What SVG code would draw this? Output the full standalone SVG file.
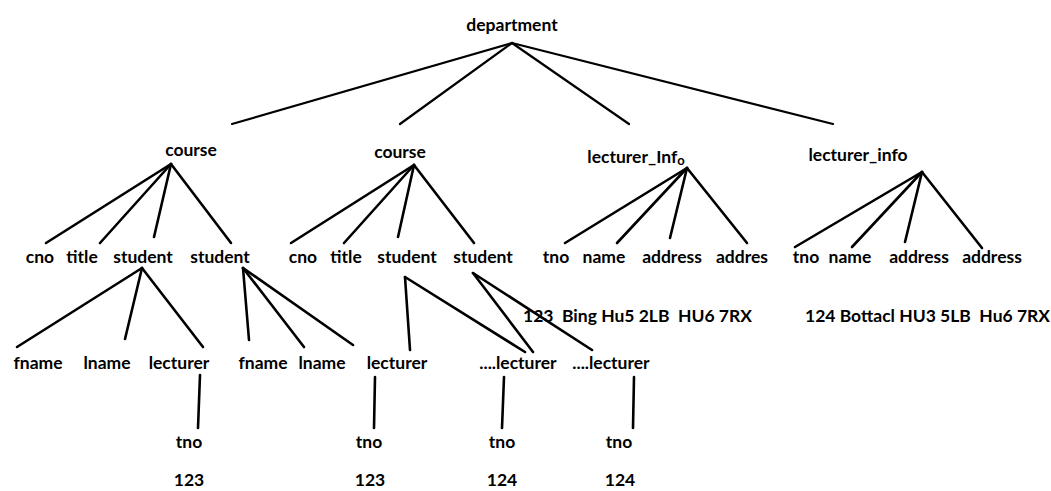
<svg xmlns="http://www.w3.org/2000/svg" width="1051" height="491" viewBox="0 0 1051 491">
  <style>
    .lbl { font-family: Lato, "Open Sans", "Liberation Sans", sans-serif; font-weight: bold; font-size: 17.5px; fill: #000; text-anchor: middle; }
    .row { text-anchor: start; white-space: pre; }
    .sub { font-size: 13px; }
    .edge { stroke: #000; stroke-width: 2.6; stroke-linecap: round; fill: none; }
    .thin { stroke-width: 2.2; }
  </style>
  <rect width="1051" height="491" fill="#fff"/>

  <!-- tree edges -->
  <g id="connectors" class="edge">
    <!-- department -->
    <g class="thin">
      <line x1="512" y1="43" x2="232" y2="124"/>
      <line x1="512" y1="43" x2="400" y2="124"/>
      <line x1="512" y1="43" x2="629" y2="124"/>
      <line x1="512" y1="43" x2="833" y2="124"/>
    </g>
    <!-- first course -->
    <line x1="171" y1="164" x2="46" y2="243"/>
    <line x1="171" y1="164" x2="100" y2="243"/>
    <line x1="171" y1="164" x2="154" y2="237"/>
    <line x1="171" y1="164" x2="231" y2="243"/>
    <!-- second course -->
    <line x1="414" y1="165" x2="291" y2="243"/>
    <line x1="414" y1="165" x2="344" y2="243"/>
    <line x1="414" y1="165" x2="398" y2="237"/>
    <line x1="414" y1="165" x2="474" y2="243"/>
    <!-- lecturer_Info -->
    <line x1="687" y1="168" x2="565" y2="243"/>
    <line x1="687" y1="168" x2="617" y2="243"/>
    <line x1="687" y1="168" x2="670" y2="238"/>
    <line x1="687" y1="168" x2="747" y2="243"/>
    <!-- lecturer_info -->
    <line x1="922" y1="172" x2="795" y2="247"/>
    <line x1="922" y1="172" x2="852" y2="247"/>
    <line x1="922" y1="172" x2="905" y2="242"/>
    <line x1="922" y1="172" x2="982" y2="248"/>
    <!-- students -->
    <line x1="142" y1="268" x2="17" y2="347"/>
    <line x1="142" y1="268" x2="125" y2="339"/>
    <line x1="142" y1="268" x2="203" y2="347"/>
    <line x1="243" y1="268" x2="249" y2="340"/>
    <line x1="243" y1="268" x2="304" y2="347"/>
    <line x1="243" y1="268" x2="353" y2="345"/>
    <line x1="405" y1="277" x2="410" y2="350"/>
    <line x1="405" y1="277" x2="525" y2="352"/>
    <line x1="473" y1="273" x2="533" y2="352"/>
    <line x1="473" y1="273" x2="592" y2="350"/>
    <!-- lecturer to tno -->
    <line x1="200" y1="375" x2="198" y2="428"/>
    <line x1="375" y1="377" x2="374" y2="428"/>
    <line x1="504" y1="377" x2="502" y2="428"/>
    <line x1="634" y1="377" x2="633" y2="428"/>
  </g>

  <g id="department"><text class="lbl" x="512" y="31">department</text></g>

  <g id="course-1"><text class="lbl" x="191" y="156">course</text></g>
  <g id="course-2"><text class="lbl" x="400" y="158">course</text></g>
  <g id="lecturer-info-1"><text class="lbl" x="636" y="163">lecturer_Inf<tspan class="sub" dy="2">o</tspan></text></g>
  <g id="lecturer-info-2"><text class="lbl" x="858" y="161">lecturer_info</text></g>

  <!-- children of first course -->
  <g id="c1-cno"><text class="lbl" x="40" y="263">cno</text></g>
  <g id="c1-title"><text class="lbl" x="82" y="263">title</text></g>
  <g id="c1-student-1"><text class="lbl" x="143" y="263">student</text></g>
  <g id="c1-student-2"><text class="lbl" x="220" y="263">student</text></g>

  <!-- children of second course -->
  <g id="c2-cno"><text class="lbl" x="303" y="263">cno</text></g>
  <g id="c2-title"><text class="lbl" x="346" y="263">title</text></g>
  <g id="c2-student-1"><text class="lbl" x="407" y="263">student</text></g>
  <g id="c2-student-2"><text class="lbl" x="483" y="263">student</text></g>

  <!-- lecturer_Info fields -->
  <g id="l1-tno"><text class="lbl" x="556" y="263">tno</text></g>
  <g id="l1-name"><text class="lbl" x="604" y="263">name</text></g>
  <g id="l1-address"><text class="lbl" x="672" y="263">address</text></g>
  <g id="l1-addres"><text class="lbl" x="742" y="263">addres</text></g>

  <!-- lecturer_info fields -->
  <g id="l2-tno"><text class="lbl" x="806" y="263">tno</text></g>
  <g id="l2-name"><text class="lbl" x="850" y="263">name</text></g>
  <g id="l2-address-1"><text class="lbl" x="919" y="263">address</text></g>
  <g id="l2-address-2"><text class="lbl" x="992" y="263">address</text></g>

  <!-- field values -->
  <g id="l1-values"><text class="lbl row" x="523" y="322" xml:space="preserve">123  Bing Hu5 2LB  HU6 7RX</text></g>
  <g id="l2-values"><text class="lbl row" x="805" y="322" xml:space="preserve">124 Bottacl HU3 5LB  Hu6 7RX</text></g>

  <!-- student children -->
  <g id="s1-fname"><text class="lbl" x="38" y="369">fname</text></g>
  <g id="s1-lname"><text class="lbl" x="107" y="369">lname</text></g>
  <g id="s1-lecturer"><text class="lbl" x="179" y="369">lecturer</text></g>
  <g id="s2-fname"><text class="lbl" x="263" y="369">fname</text></g>
  <g id="s2-lname"><text class="lbl" x="322" y="369">lname</text></g>
  <g id="s2-lecturer"><text class="lbl" x="397" y="369">lecturer</text></g>
  <g id="s3-lecturer"><text class="lbl" x="518" y="369">....lecturer</text></g>
  <g id="s4-lecturer"><text class="lbl" x="611" y="369">....lecturer</text></g>

  <!-- lecturer tno -->
  <g id="t1"><text class="lbl" x="189" y="448">tno</text></g>
  <g id="t2"><text class="lbl" x="369" y="448">tno</text></g>
  <g id="t3"><text class="lbl" x="502" y="448">tno</text></g>
  <g id="t4"><text class="lbl" x="619" y="448">tno</text></g>

  <g id="v1"><text class="lbl" x="189" y="486">123</text></g>
  <g id="v2"><text class="lbl" x="370" y="486">123</text></g>
  <g id="v3"><text class="lbl" x="502" y="486">124</text></g>
  <g id="v4"><text class="lbl" x="620" y="486">124</text></g>
</svg>
